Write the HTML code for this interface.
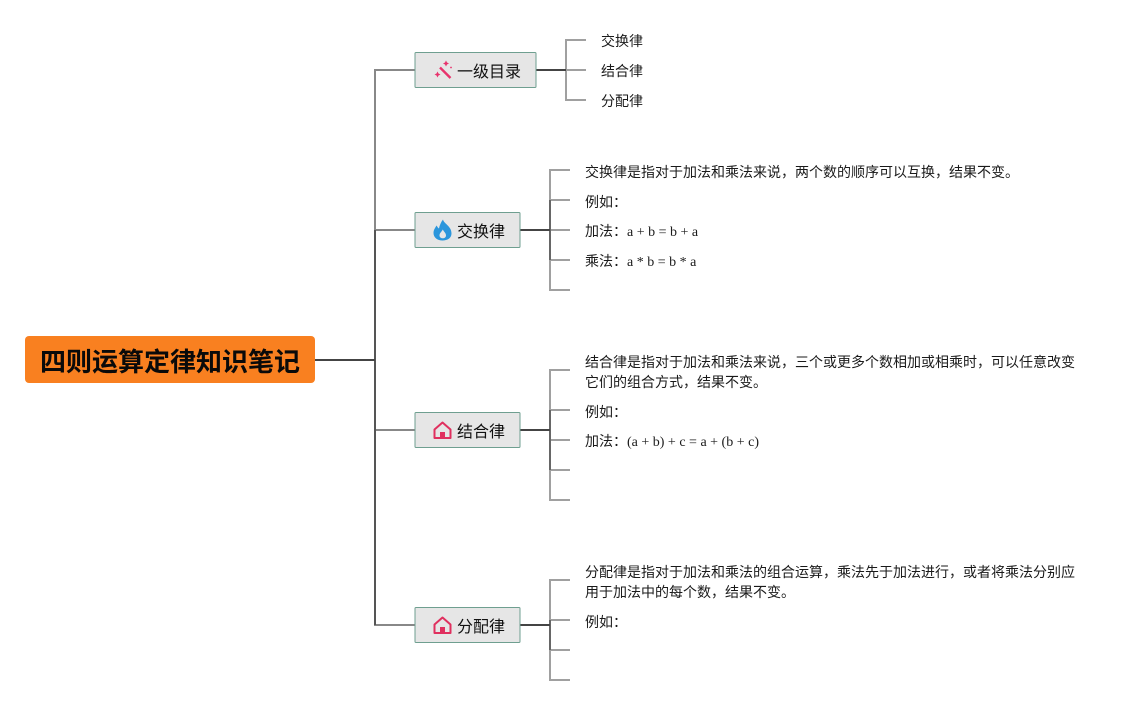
<!DOCTYPE html>
<html><head><meta charset="utf-8"><style>
html,body{margin:0;padding:0;background:#fff;width:1145px;height:705px;overflow:hidden}
svg{display:block}
text{font-family:"Liberation Serif","WenQuanYi Zen Hei","Noto Sans CJK SC",sans-serif;font-size:14px;fill:#1a1a1a}
.n{font-size:16px;fill:#111}
.r{font-size:26px;font-weight:bold;fill:#0a0a0a;font-family:"Liberation Sans","Noto Sans CJK SC",sans-serif}
.b{fill:#e6e6e6;stroke:#6f9f90;stroke-width:1}
path.l{fill:none;stroke-width:2}
</style></head><body>
<svg width="1145" height="705" viewBox="0 0 1145 705" xmlns="http://www.w3.org/2000/svg">
<!-- trunk -->
<path class="l" stroke="#888" d="M415 70H375V625H415M375 230H415M375 430H415"/>
<path class="l" stroke="#555" d="M375 230V625" />
<path class="l" stroke="#444" d="M315 360H375"/>
<!-- branch 1 -->
<path class="l" stroke="#a0a0a0" d="M586 40H566V100H586M566 70H586"/>
<path class="l" stroke="#444" d="M536 70H566"/>
<!-- branch 2 -->
<path class="l" stroke="#a0a0a0" d="M570 170H550V290H570M550 200H570M550 230H570M550 260H570"/>
<path class="l" stroke="#666" d="M550 200V260"/>
<path class="l" stroke="#444" d="M520 230H550"/>
<!-- branch 3 -->
<path class="l" stroke="#a0a0a0" d="M570 370H550V500H570M550 410H570M550 440H570M550 470H570"/>
<path class="l" stroke="#666" d="M550 410V470"/>
<path class="l" stroke="#444" d="M520 430H550"/>
<!-- branch 4 -->
<path class="l" stroke="#a0a0a0" d="M570 580H550V680H570M550 620H570M550 650H570"/>
<path class="l" stroke="#666" d="M550 620V650"/>
<path class="l" stroke="#444" d="M520 625H550"/>
<!-- root -->
<rect x="25" y="336" width="290" height="47" rx="4" fill="#f98020"/>
<text class="r" x="40" y="371">四则运算定律知识笔记</text>
<!-- nodes -->
<rect class="b" x="415" y="52.500" width="121" height="35" rx="1"/>
<rect class="b" x="415" y="212.500" width="105" height="35" rx="1"/>
<rect class="b" x="415" y="412.500" width="105" height="35" rx="1"/>
<rect class="b" x="415" y="607.500" width="105" height="35" rx="1"/>
<text class="n" x="457" y="77">一级目录</text>
<text class="n" x="457" y="237">交换律</text>
<text class="n" x="457" y="437">结合律</text>
<text class="n" x="457" y="632">分配律</text>
<!-- wand icon -->
<path d="M440 67.500L450.500 78" stroke="#e8336d" stroke-width="2.400" fill="none"/>
<g fill="#e8336d">
<path d="M446 60.500L447 62.500L449 63.500L447 64.500L446 66.500L445 64.500L443 63.500L445 62.500Z"/>
<path d="M437.500 71.500L438.500 73.500L440.500 74.500L438.500 75.500L437.500 77.500L436.500 75.500L434.500 74.500L436.500 73.500Z"/>
<circle cx="451" cy="67.500" r="0.900"/>
</g>
<!-- flame icon -->
<path fill="#2b96dc" d="M443 219.500C444 224 451.500 226 451.500 233.500C451.500 238 447.500 240.500 442.500 240.500C437.500 240.500 433.500 237.500 433.500 233C433.500 229.500 435.500 227.500 436.500 225.500C437.500 227 438 228 439 228.500C439.500 225.500 441 222 443 219.500ZM442.800 229.500C441.500 232 439.500 233 439.500 235.500C439.500 237.200 441 238.300 442.800 238.300C444.600 238.300 446 237.200 446 235.500C446 233 444 232 442.800 229.500Z" fill-rule="evenodd"/>
<!-- house icons -->
<g fill="none" stroke="#e0305f" stroke-width="2">
<path d="M434.500 429.500L442.500 422.500L450.500 429.500V438H434.500Z" stroke-linejoin="round"/>
<rect x="440" y="432" width="5" height="6.500" fill="#e0305f" stroke="none"/>
</g>
<g fill="none" stroke="#e0305f" stroke-width="2">
<path d="M434.500 624.500L442.500 617.500L450.500 624.500V633H434.500Z" stroke-linejoin="round"/>
<rect x="440" y="627" width="5" height="6.500" fill="#e0305f" stroke="none"/>
</g>
<!-- branch 1 text -->
<text x="601" y="46">交换律</text>
<text x="601" y="76">结合律</text>
<text x="601" y="106">分配律</text>
<!-- branch 2 text -->
<text x="585" y="177">交换律是指对于加法和乘法来说，两个数的顺序可以互换，结果不变。</text>
<text x="585" y="207">例如：</text>
<text x="585" y="236">加法：a + b = b + a</text>
<text x="585" y="266">乘法：a * b = b * a</text>
<!-- branch 3 text -->
<text x="585" y="367">结合律是指对于加法和乘法来说，三个或更多个数相加或相乘时，可以任意改变</text>
<text x="585" y="387">它们的组合方式，结果不变。</text>
<text x="585" y="417">例如：</text>
<text x="585" y="446">加法：(a + b) + c = a + (b + c)</text>
<!-- branch 4 text -->
<text x="585" y="577">分配律是指对于加法和乘法的组合运算，乘法先于加法进行，或者将乘法分别应</text>
<text x="585" y="597">用于加法中的每个数，结果不变。</text>
<text x="585" y="627">例如：</text>
</svg>
</body></html>
